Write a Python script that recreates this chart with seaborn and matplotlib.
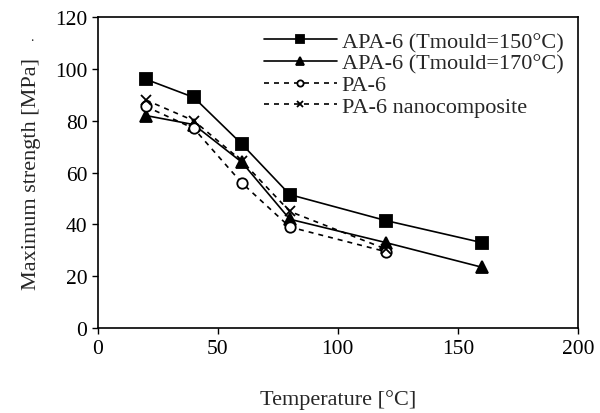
import seaborn as sns
import pandas as pd
from matplotlib import pyplot as plt

# temperatures [°C] and max strength [MPa]
temp_apa = [20, 40, 60, 80, 120, 160]
temp_pa = [20, 40, 60, 80, 120]
apa_150 = [96, 89, 71, 51.5, 41.5, 33]
apa_170 = [82, 78.5, 64, 42, 33, 23.5]
pa6 = [85.5, 77, 56, 39, 29.5]
pa6_nano = [88, 80, 64.5, 45, 30.5]

series = [
    ('APA-6 (Tmould=150°C)', temp_apa, apa_150, 's', '-', 'black', 8.5),
    ('APA-6 (Tmould=170°C)', temp_apa, apa_170, '^', '-', 'black', 9),
    ('PA-6', temp_pa, pa6, 'o', (0, (3, 3)), 'white', 7.5),
    ('PA-6 nanocomposite', temp_pa, pa6_nano, 'x', (0, (3, 3)), 'black', 7.5),
]

sns.set_theme(style='ticks')
plt.rcParams['font.family'] = ['Liberation Serif', 'DejaVu Serif']

fig = plt.figure(figsize=(6, 4.14), dpi=100)
ax = fig.add_axes([0.163, 0.205, 0.8, 0.7515])

for name, xs, ys, marker, ls, face, ms in series:
    df = pd.DataFrame({'x': xs, 'y': ys})
    sns.lineplot(data=df, x='x', y='y', ax=ax, color='black', marker=marker,
                 linestyle=ls, linewidth=1.2, markersize=ms,
                 markerfacecolor=face, markeredgecolor='black',
                 markeredgewidth=1.3, label=name)

ax.set_xlim(0, 200)
ax.set_ylim(0, 120)
ax.set_xticks([0, 50, 100, 150, 200])
ax.set_yticks(range(0, 121, 20))
ax.tick_params(direction='out', length=4, width=1, labelsize=15.5, colors='black')
for sp in ax.spines.values():
    sp.set_color('black')
    sp.set_linewidth(1.2)

ax.set_xlabel('Temperature [°C]', fontsize=16, labelpad=23)
ax.set_ylabel('Maximum strength [MPa]', fontsize=16, labelpad=10)
fig.text(0.05, 0.9, '.', fontsize=10)

ax.legend(loc='upper right', bbox_to_anchor=(1.0, 1.0), frameon=False,
          fontsize=16, handlelength=3.3, handletextpad=0.2,
          labelspacing=0.05, markerscale=0.6, borderaxespad=0.25)

fig.savefig('out.png', dpi=100)
